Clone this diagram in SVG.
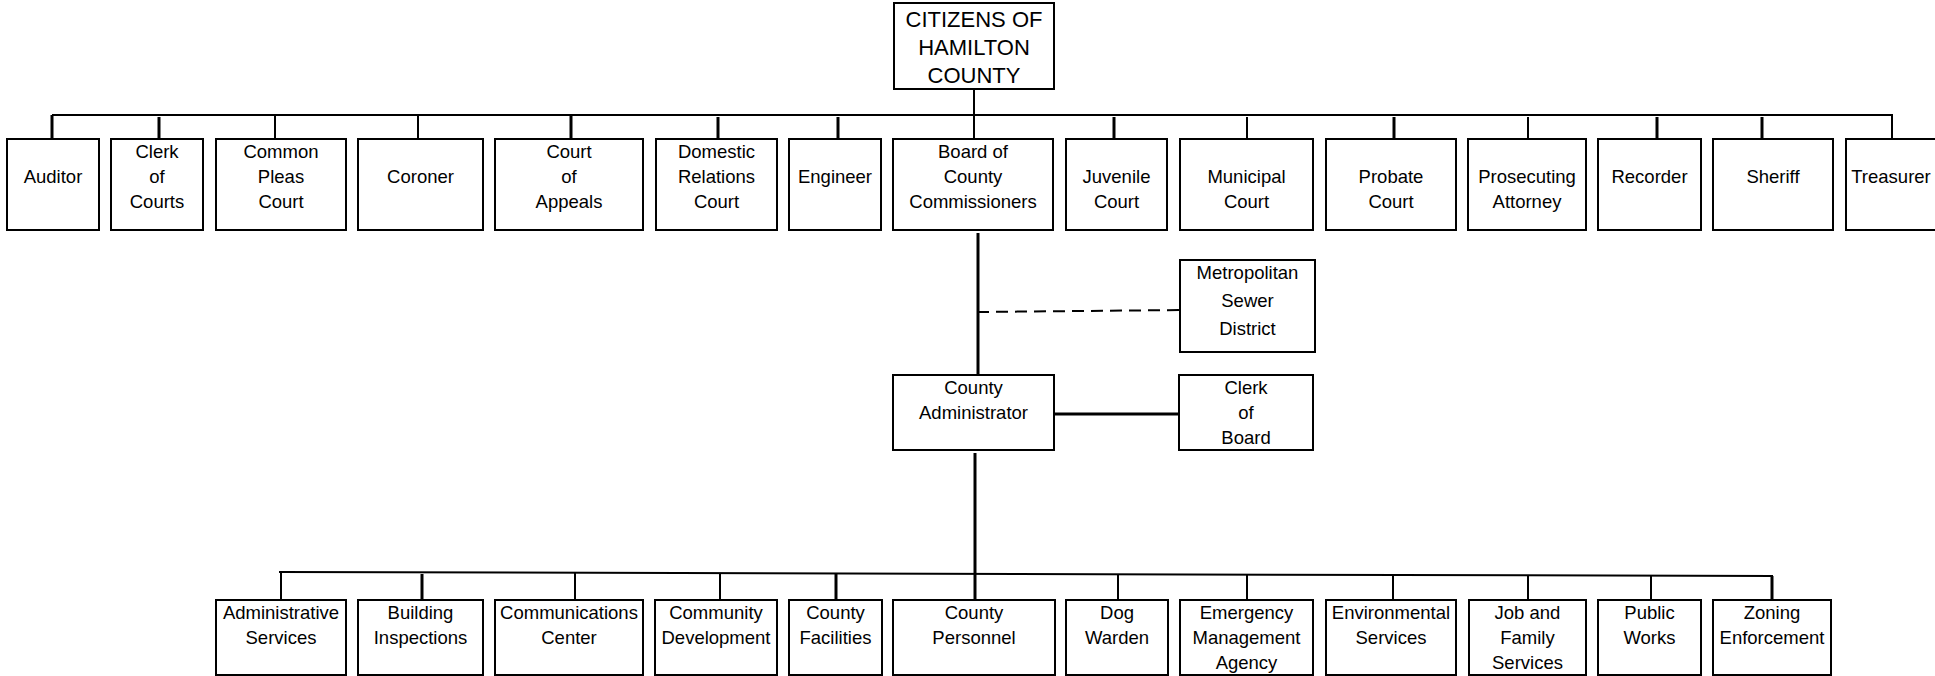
<svg xmlns="http://www.w3.org/2000/svg" width="1935" height="676" viewBox="0 0 1935 676">
<style>
  .box { fill: #ffffff; stroke: #000000; stroke-width: 2; }
  .t { font-family: "Liberation Sans", Arial, sans-serif; font-size: 18.5px; fill: #000000; text-anchor: middle; }
  .big { font-size: 22px; }
  .ln { stroke: #000000; stroke-width: 2; fill: none; }
  .thk { stroke: #000000; stroke-width: 3; fill: none; }
  .dash { stroke: #000000; stroke-width: 2; fill: none; stroke-dasharray: 12 7; }
</style>
<rect x="0" y="0" width="1935" height="676" fill="#ffffff"/>

<g id="connectors">
  <!-- top bus -->
  <line class="ln" x1="52" y1="115" x2="1893" y2="115"/>
  <line class="ln" x1="974" y1="89" x2="974" y2="139"/>
  <line class="thk" x1="52" y1="115" x2="52" y2="139"/>
  <line class="thk" x1="159" y1="117" x2="159" y2="142"/>
  <line class="ln" x1="275" y1="115" x2="275" y2="139"/>
  <line class="ln" x1="418" y1="115" x2="418" y2="139"/>
  <line class="thk" x1="571" y1="115" x2="571" y2="139"/>
  <line class="thk" x1="718" y1="117" x2="718" y2="142"/>
  <line class="thk" x1="838" y1="117" x2="838" y2="142"/>
  <line class="thk" x1="1114" y1="117" x2="1114" y2="142"/>
  <line class="ln" x1="1247" y1="117" x2="1247" y2="142"/>
  <line class="thk" x1="1394" y1="117" x2="1394" y2="142"/>
  <line class="ln" x1="1528" y1="117" x2="1528" y2="142"/>
  <line class="thk" x1="1657" y1="117" x2="1657" y2="142"/>
  <line class="thk" x1="1762" y1="117" x2="1762" y2="142"/>
  <line class="ln" x1="1892" y1="115" x2="1892" y2="139"/>
  <!-- board to administrator -->
  <line class="thk" x1="978" y1="233" x2="978" y2="375"/>
  <line class="dash" x1="977" y1="312" x2="1180" y2="310"/>
  <line class="thk" x1="1054" y1="414" x2="1179" y2="414"/>
  <line class="thk" x1="975" y1="453" x2="975" y2="600"/>
  <!-- bottom bus -->
  <line class="ln" x1="279" y1="572" x2="1773" y2="576"/>
  <line class="ln" x1="281" y1="572" x2="281" y2="600"/>
  <line class="thk" x1="422" y1="574" x2="422" y2="600"/>
  <line class="ln" x1="575" y1="573" x2="575" y2="600"/>
  <line class="ln" x1="720" y1="573" x2="720" y2="600"/>
  <line class="thk" x1="836" y1="574" x2="836" y2="600"/>
  <line class="ln" x1="1118" y1="574" x2="1118" y2="600"/>
  <line class="ln" x1="1247" y1="575" x2="1247" y2="600"/>
  <line class="ln" x1="1393" y1="575" x2="1393" y2="600"/>
  <line class="ln" x1="1528" y1="575" x2="1528" y2="600"/>
  <line class="ln" x1="1651" y1="576" x2="1651" y2="602"/>
  <line class="thk" x1="1772" y1="576" x2="1772" y2="602"/>
</g>

<g id="citizens">
  <rect class="box" x="894" y="3" width="160" height="86"/>
  <text class="t big" x="974" y="27">CITIZENS OF</text>
  <text class="t big" x="974" y="55">HAMILTON</text>
  <text class="t big" x="974" y="83">COUNTY</text>
</g>

<g id="auditor">
  <rect class="box" x="7" y="139" width="92" height="91"/>
  <text class="t" x="53" y="183">Auditor</text>
</g>
<g id="clerk-of-courts">
  <rect class="box" x="111" y="139" width="92" height="91"/>
  <text class="t" x="157" y="158">Clerk</text>
  <text class="t" x="157" y="183">of</text>
  <text class="t" x="157" y="208">Courts</text>
</g>
<g id="common-pleas-court">
  <rect class="box" x="216" y="139" width="130" height="91"/>
  <text class="t" x="281" y="158">Common</text>
  <text class="t" x="281" y="183">Pleas</text>
  <text class="t" x="281" y="208">Court</text>
</g>
<g id="coroner">
  <rect class="box" x="358" y="139" width="125" height="91"/>
  <text class="t" x="420.5" y="183">Coroner</text>
</g>
<g id="court-of-appeals">
  <rect class="box" x="495" y="139" width="148" height="91"/>
  <text class="t" x="569" y="158">Court</text>
  <text class="t" x="569" y="183">of</text>
  <text class="t" x="569" y="208">Appeals</text>
</g>
<g id="domestic-relations-court">
  <rect class="box" x="656" y="139" width="121" height="91"/>
  <text class="t" x="716.5" y="158">Domestic</text>
  <text class="t" x="716.5" y="183">Relations</text>
  <text class="t" x="716.5" y="208">Court</text>
</g>
<g id="engineer">
  <rect class="box" x="789" y="139" width="92" height="91"/>
  <text class="t" x="835" y="183">Engineer</text>
</g>
<g id="board-of-county-commissioners">
  <rect class="box" x="893" y="139" width="160" height="91"/>
  <text class="t" x="973" y="158">Board of</text>
  <text class="t" x="973" y="183">County</text>
  <text class="t" x="973" y="208">Commissioners</text>
</g>
<g id="juvenile-court">
  <rect class="box" x="1066" y="139" width="101" height="91"/>
  <text class="t" x="1116.5" y="183">Juvenile</text>
  <text class="t" x="1116.5" y="208">Court</text>
</g>
<g id="municipal-court">
  <rect class="box" x="1180" y="139" width="133" height="91"/>
  <text class="t" x="1246.5" y="183">Municipal</text>
  <text class="t" x="1246.5" y="208">Court</text>
</g>
<g id="probate-court">
  <rect class="box" x="1326" y="139" width="130" height="91"/>
  <text class="t" x="1391" y="183">Probate</text>
  <text class="t" x="1391" y="208">Court</text>
</g>
<g id="prosecuting-attorney">
  <rect class="box" x="1468" y="139" width="118" height="91"/>
  <text class="t" x="1527" y="183">Prosecuting</text>
  <text class="t" x="1527" y="208">Attorney</text>
</g>
<g id="recorder">
  <rect class="box" x="1598" y="139" width="103" height="91"/>
  <text class="t" x="1649.5" y="183">Recorder</text>
</g>
<g id="sheriff">
  <rect class="box" x="1713" y="139" width="120" height="91"/>
  <text class="t" x="1773" y="183">Sheriff</text>
</g>
<g id="treasurer">
  <rect class="box" x="1846" y="139" width="92" height="91"/>
  <text class="t" x="1891" y="183">Treasurer</text>
</g>

<g id="metropolitan-sewer-district">
  <rect class="box" x="1180" y="260" width="135" height="92"/>
  <text class="t" x="1247.5" y="279">Metropolitan</text>
  <text class="t" x="1247.5" y="307">Sewer</text>
  <text class="t" x="1247.5" y="335">District</text>
</g>
<g id="county-administrator">
  <rect class="box" x="893" y="375" width="161" height="75"/>
  <text class="t" x="973.5" y="394">County</text>
  <text class="t" x="973.5" y="419">Administrator</text>
</g>
<g id="clerk-of-board">
  <rect class="box" x="1179" y="375" width="134" height="75"/>
  <text class="t" x="1246" y="394">Clerk</text>
  <text class="t" x="1246" y="419">of</text>
  <text class="t" x="1246" y="444">Board</text>
</g>

<g id="administrative-services">
  <rect class="box" x="216" y="600" width="130" height="75"/>
  <text class="t" x="281" y="619">Administrative</text>
  <text class="t" x="281" y="644">Services</text>
</g>
<g id="building-inspections">
  <rect class="box" x="358" y="600" width="125" height="75"/>
  <text class="t" x="420.5" y="619">Building</text>
  <text class="t" x="420.5" y="644">Inspections</text>
</g>
<g id="communications-center">
  <rect class="box" x="495" y="600" width="148" height="75"/>
  <text class="t" x="569" y="619">Communications</text>
  <text class="t" x="569" y="644">Center</text>
</g>
<g id="community-development">
  <rect class="box" x="655" y="600" width="122" height="75"/>
  <text class="t" x="716" y="619">Community</text>
  <text class="t" x="716" y="644">Development</text>
</g>
<g id="county-facilities">
  <rect class="box" x="789" y="600" width="93" height="75"/>
  <text class="t" x="835.5" y="619">County</text>
  <text class="t" x="835.5" y="644">Facilities</text>
</g>
<g id="county-personnel">
  <rect class="box" x="893" y="600" width="162" height="75"/>
  <text class="t" x="974" y="619">County</text>
  <text class="t" x="974" y="644">Personnel</text>
</g>
<g id="dog-warden">
  <rect class="box" x="1066" y="600" width="102" height="75"/>
  <text class="t" x="1117" y="619">Dog</text>
  <text class="t" x="1117" y="644">Warden</text>
</g>
<g id="emergency-management-agency">
  <rect class="box" x="1180" y="600" width="133" height="75"/>
  <text class="t" x="1246.5" y="619">Emergency</text>
  <text class="t" x="1246.5" y="644">Management</text>
  <text class="t" x="1246.5" y="669">Agency</text>
</g>
<g id="environmental-services">
  <rect class="box" x="1326" y="600" width="130" height="75"/>
  <text class="t" x="1391" y="619">Environmental</text>
  <text class="t" x="1391" y="644">Services</text>
</g>
<g id="job-and-family-services">
  <rect class="box" x="1469" y="600" width="117" height="75"/>
  <text class="t" x="1527.5" y="619">Job and</text>
  <text class="t" x="1527.5" y="644">Family</text>
  <text class="t" x="1527.5" y="669">Services</text>
</g>
<g id="public-works">
  <rect class="box" x="1598" y="600" width="103" height="75"/>
  <text class="t" x="1649.5" y="619">Public</text>
  <text class="t" x="1649.5" y="644">Works</text>
</g>
<g id="zoning-enforcement">
  <rect class="box" x="1713" y="600" width="118" height="75"/>
  <text class="t" x="1772" y="619">Zoning</text>
  <text class="t" x="1772" y="644">Enforcement</text>
</g>
</svg>
